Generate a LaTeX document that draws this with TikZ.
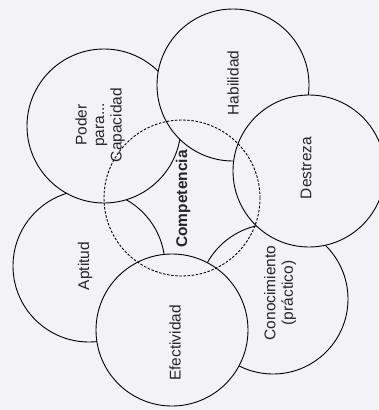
\documentclass[tikz,border=0pt]{standalone}
\usepackage{fontspec}
\setmainfont{Liberation Sans}
\definecolor{paper}{RGB}{243,242,246}

\begin{document}
\begin{tikzpicture}[x=1pt,y=-1pt,
	circ/.style={circle,draw=black,line width=.9pt,fill=paper,inner sep=0pt},
	txt/.style={rotate=90,align=center,font=\fontsize{15.5}{17.5}\selectfont,text=black!85}]
\useasboundingbox (0,0) rectangle (378,410);
\fill[paper] (0,0) rectangle (378,410);
% circles, from the bottom layer up
	\foreach \n/\x/\y/\r in {aptitud/89/266/76, conocimiento/273/299/75, poder/104/126/77,
		habilidad/233/85/76, destreza/309/171/76, efectividad/172/330/76} {
		\node (\n) at (\x,\y) [circ,minimum size=\r*2pt] {};
		}
\node (competencia) at (182,198) [circle,draw=black,line width=.9pt,dash pattern=on 2.5pt off 1.6pt,minimum size=156pt,inner sep=0pt] {};

\node (poderlbl) at (100,125) [txt] {Poder\\para...\\Capacidad};
\node (habilidadlbl) at (233,83) [txt] {Habilidad};
\node (destrezalbl) at (306,168) [txt] {Destreza};
\node (competencialbl) at (183,199) [txt,font=\fontsize{15.5}{17.5}\selectfont\bfseries] {Competencia};
\node (aptitudlbl) at (85,266) [txt] {Aptitud};
\node (efectividadlbl) at (175,343) [txt] {Efectividad};
\node (conocimientolbl) at (280,293) [txt] {Conocimiento\\(práctico)};
\end{tikzpicture}
\end{document}
